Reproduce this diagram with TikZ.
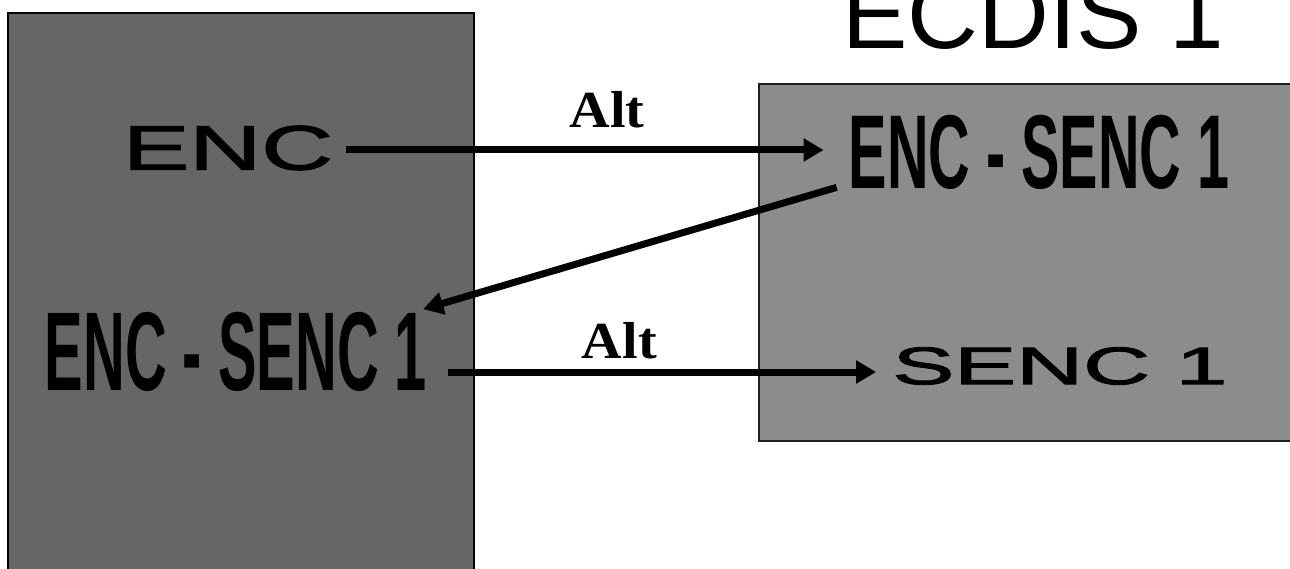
\documentclass[tikz,border=0pt]{standalone}
\usepackage{fontspec}
\setmainfont{Liberation Sans}
\newfontfamily\altfont{Liberation Serif}
\newfontfamily\widefont[FakeBold=1.6]{Liberation Sans}
\usetikzlibrary{arrows.meta}

\tikzset{
  flow/.style={line width=7pt, -{Triangle[length=20pt,width=22pt]}},
  narrowlbl/.style={inner sep=0pt, font=\bfseries\fontsize{#1}{#1}\selectfont},
  widelbl/.style={inner sep=0pt, font=\widefont\fontsize{#1}{#1}\selectfont},
  titlelbl/.style={inner sep=0pt, font=\fontsize{98}{98}\selectfont},
  altlbl/.style={inner sep=0pt, xscale=1.08, font=\altfont\bfseries\fontsize{52}{52}\selectfont}
}

\begin{document}
\begin{tikzpicture}[x=1pt, y=-1pt]
  \useasboundingbox (0,0) rectangle (1290,569);

  % boxes
  \draw[line width=2.5pt, fill={rgb,255:red,102;green,102;blue,102}] (8,13) rectangle (474,590);
  \draw[line width=2pt, draw={rgb,255:red,30;green,30;blue,30}, fill={rgb,255:red,140;green,140;blue,140}] (759,84) rectangle (1310,441);

  % title
  \node[titlelbl] (title) at (1033,15) {ECDIS 1};

  % labels
  \node[widelbl=63, xscale=1.58] (enc) at (228,148) {ENC};
  \node[narrowlbl=112, xscale=0.516] (lencsenc) at (236,352) {ENC - SENC 1};
  \node[narrowlbl=105, xscale=0.548] (rencsenc) at (1039,152) {ENC - SENC 1};
  \node[widelbl=53, xscale=1.75] (senc) at (1060,366) {SENC 1};

  % arrows
  \draw[flow] ([shift={(13,2)}]enc.east) -- ([shift={(-25,-2)}]rencsenc.west)
    node[altlbl, pos=0.546, above=18pt] (alttop) {Alt};
  \draw[flow] ([shift={(-12,-2)}]rencsenc.south west) -- ([shift={(-4,-3)}]lencsenc.north east);
  \draw[flow] ([shift={(21,20)}]lencsenc.east) -- ([shift={(-16,6)}]senc.west)
    node[altlbl, pos=0.40, above=9pt] (altbot) {Alt};
\end{tikzpicture}
\end{document}
